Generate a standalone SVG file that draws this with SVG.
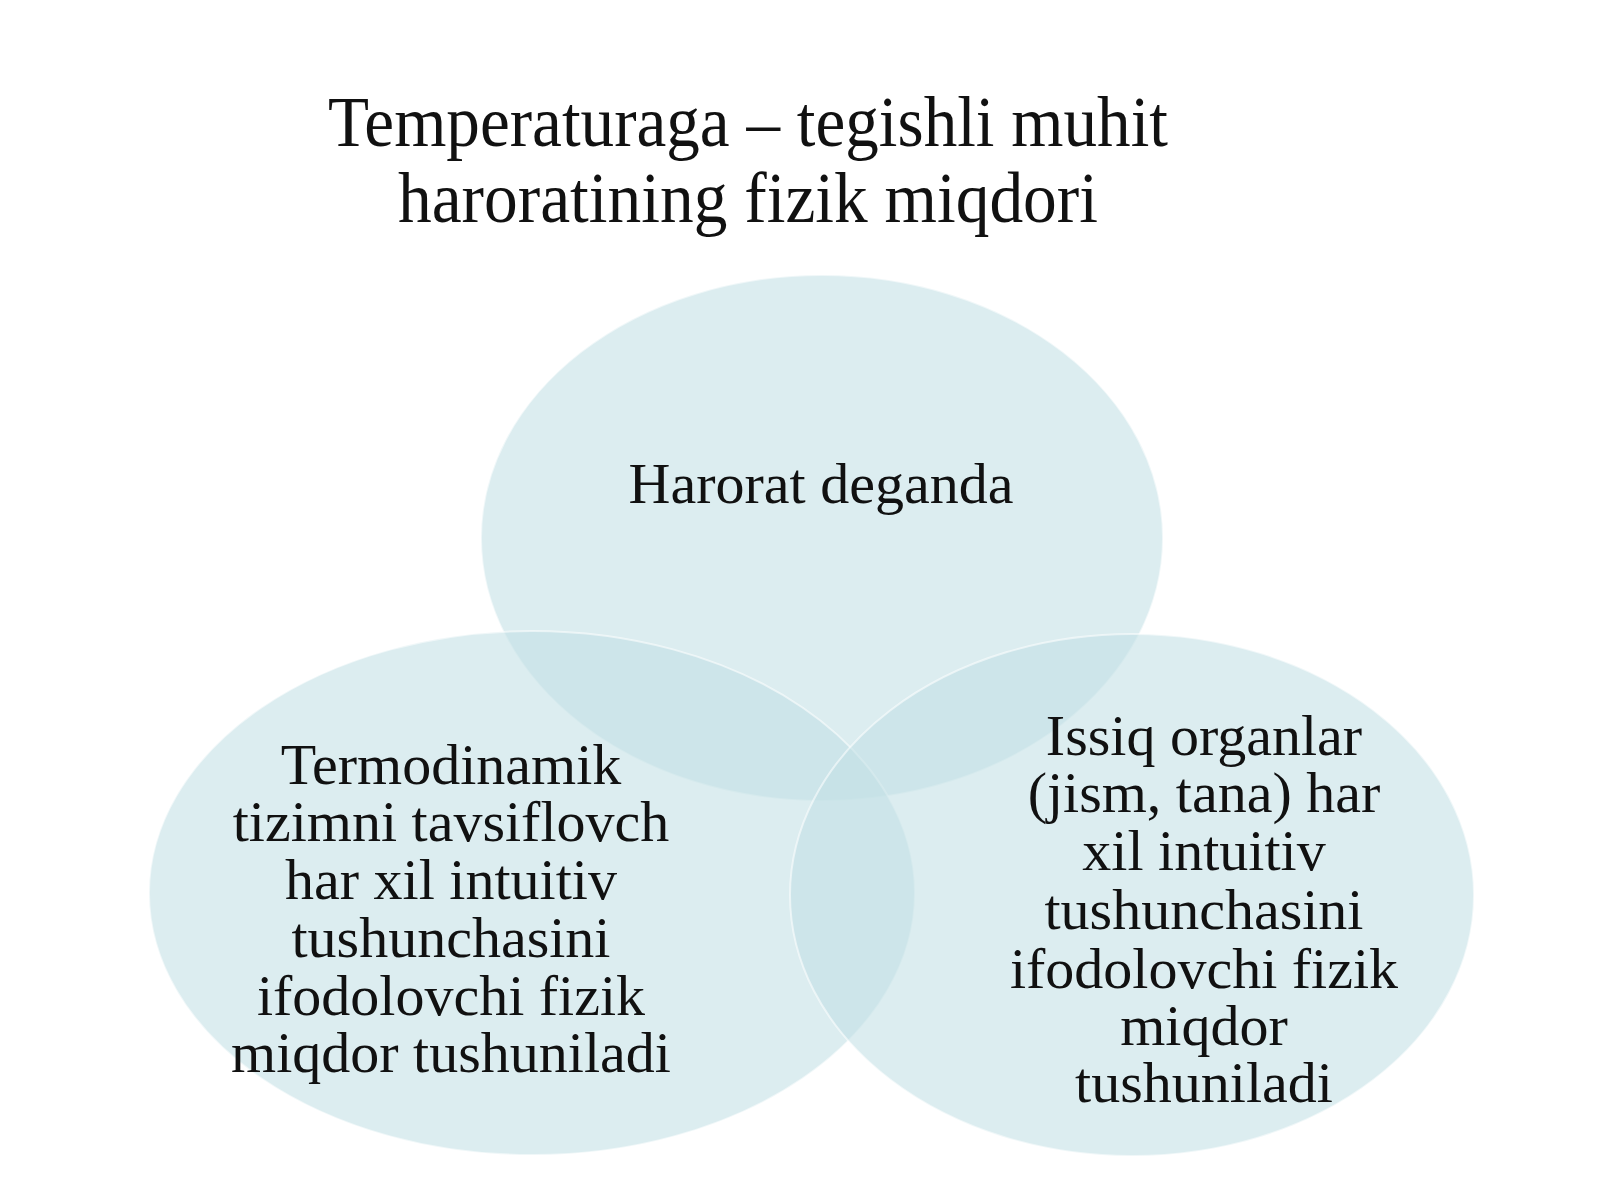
<svg xmlns="http://www.w3.org/2000/svg" width="1600" height="1200" viewBox="0 0 1600 1200">
<style>
.c{fill:#c3e0e6;fill-opacity:0.58;stroke:#ffffff;stroke-opacity:0.55;stroke-width:2}
.t{font-family:"Liberation Serif","Times New Roman",serif;fill:#111111;text-anchor:middle}
.title{font-size:71px}
.lbl{font-size:58px}
</style>
<rect width="1600" height="1200" fill="#ffffff"/>
<g id="title">
<text class="t title" x="748" y="146" textLength="840" lengthAdjust="spacingAndGlyphs">Temperaturaga – tegishli muhit</text>
<text class="t title" x="748" y="222" textLength="700" lengthAdjust="spacingAndGlyphs">haroratining fizik miqdori</text>
</g>
<g id="connectors"></g>
<g id="node-top">
<ellipse class="c" cx="822" cy="538" rx="341" ry="263"/>
</g>
<g id="node-left">
<ellipse class="c" cx="532" cy="893" rx="383" ry="262"/>
</g>
<g id="node-right">
<ellipse class="c" cx="1132" cy="895" rx="342" ry="261"/>
</g>
<g id="label-top">
<text class="t lbl" x="821" y="503">Harorat deganda</text>
</g>
<g id="label-left">
<text class="t lbl" x="451" y="784">Termodinamik</text>
<text class="t lbl" x="451" y="841">tizimni tavsiflovch</text>
<text class="t lbl" x="451" y="899">har xil intuitiv</text>
<text class="t lbl" x="451" y="957">tushunchasini</text>
<text class="t lbl" x="451" y="1015">ifodolovchi fizik</text>
<text class="t lbl" x="451" y="1072">miqdor tushuniladi</text>
</g>
<g id="label-right">
<text class="t lbl" x="1204" y="755">Issiq organlar</text>
<text class="t lbl" x="1204" y="812">(jism, tana) har</text>
<text class="t lbl" x="1204" y="870">xil intuitiv</text>
<text class="t lbl" x="1204" y="929">tushunchasini</text>
<text class="t lbl" x="1204" y="988">ifodolovchi fizik</text>
<text class="t lbl" x="1204" y="1045">miqdor</text>
<text class="t lbl" x="1204" y="1102">tushuniladi</text>
</g>
</svg>
